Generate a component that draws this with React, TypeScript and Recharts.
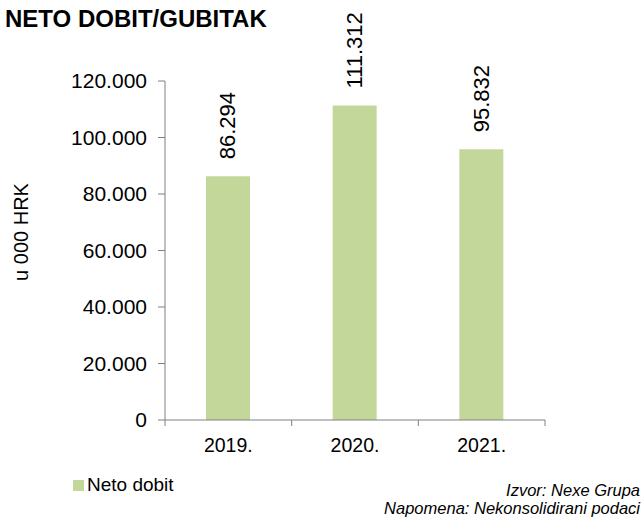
import React from 'react';
import { BarChart, Bar, XAxis, YAxis, LabelList } from 'recharts';

const years = ['2019.', '2020.', '2021.'];
const netProfit = [86294, 111312, 95832];
const yTicks = [0, 20000, 40000, 60000, 80000, 100000, 120000];

const data = years.map((year, i) => ({ year, netProfit: netProfit[i] }));

const FONT = '"Liberation Sans", Arial, sans-serif';
const BAR_COLOR = '#c4d79b';
const AXIS_COLOR = '#808080';

// thousands separated by dots, like 120.000
const fmt = (v: number) => String(v).replace(/\B(?=(\d{3})+(?!\d))/g, '.');

const RotatedLabel = (props: any) => {
  const { x, y, width, value } = props;
  const cx = x + width / 2;
  const cy = y - 17;
  return (
    <text
      x={cx}
      y={cy}
      transform={`rotate(-90, ${cx}, ${cy})`}
      textAnchor="start"
      dominantBaseline="central"
      fontFamily={FONT}
      fontSize={22}
      fill="#000"
    >
      {fmt(value)}
    </text>
  );
};

// category label plus tick marks on the band boundaries (excel style)
const YearTick = (props: any) => {
  const { x, y, width, payload, index, visibleTicksCount } = props;
  const count = visibleTicksCount || years.length;
  const half = payload?.offset ? payload.offset : width / count / 2;
  const last = index === count - 1;
  const top = y - 10;
  return (
    <g>
      <line x1={x - half} x2={x - half} y1={top} y2={top + 6} stroke={AXIS_COLOR} />
      {last && <line x1={x + half} x2={x + half} y1={top} y2={top + 6} stroke={AXIS_COLOR} />}
      <text x={x} y={y + 22} textAnchor="middle" fontFamily={FONT} fontSize={19.5} fill="#000">
        {payload.value}
      </text>
    </g>
  );
};

const App = () => {
  return (
    <div style={{ position: 'absolute', left: 0, top: 0, width: 644, height: 522, background: '#fff', fontFamily: FONT }}>
      <div style={{ position: 'absolute', left: 5, top: 5, fontSize: 24, fontWeight: 'bold', color: '#000' }}>
        NETO DOBIT/GUBITAK
      </div>

      <BarChart
        width={644}
        height={522}
        data={data}
        margin={{ top: 81, right: 99, bottom: 70, left: 0 }}
      >
        <XAxis
          dataKey="year"
          height={32}
          axisLine={{ stroke: AXIS_COLOR }}
          tickLine={false}
          tickSize={0}
          tickMargin={10}
          tick={<YearTick />}
          interval={0}
        />
        <YAxis
          width={165}
          domain={[0, 120000]}
          ticks={yTicks}
          tickFormatter={fmt}
          axisLine={{ stroke: AXIS_COLOR }}
          tickLine={{ stroke: AXIS_COLOR }}
          tickSize={7}
          tickMargin={11}
          tick={{ fontSize: 21, fill: '#000', fontFamily: FONT }}
          interval={0}
        />
        <Bar dataKey="netProfit" fill={BAR_COLOR} barSize={44} isAnimationActive={false}>
          <LabelList dataKey="netProfit" content={<RotatedLabel />} />
        </Bar>
      </BarChart>

      <div
        style={{
          position: 'absolute',
          left: 21,
          top: 232,
          transform: 'translate(-50%, -50%) rotate(-90deg)',
          fontSize: 20,
          whiteSpace: 'nowrap',
          color: '#000',
        }}
      >
        u 000 HRK
      </div>

      <div style={{ position: 'absolute', left: 73, top: 474, display: 'flex', alignItems: 'center', fontSize: 19, color: '#000' }}>
        <span style={{ display: 'inline-block', width: 11, height: 11, background: BAR_COLOR, marginRight: 3 }} />
        Neto dobit
      </div>

      <div
        style={{
          position: 'absolute',
          right: 4,
          top: 481,
          textAlign: 'right',
          fontSize: 16.5,
          fontStyle: 'italic',
          lineHeight: '18px',
          color: '#000',
        }}
      >
        Izvor: Nexe Grupa
        <br />
        Napomena: Nekonsolidirani podaci
      </div>
    </div>
  );
};

export default App;
